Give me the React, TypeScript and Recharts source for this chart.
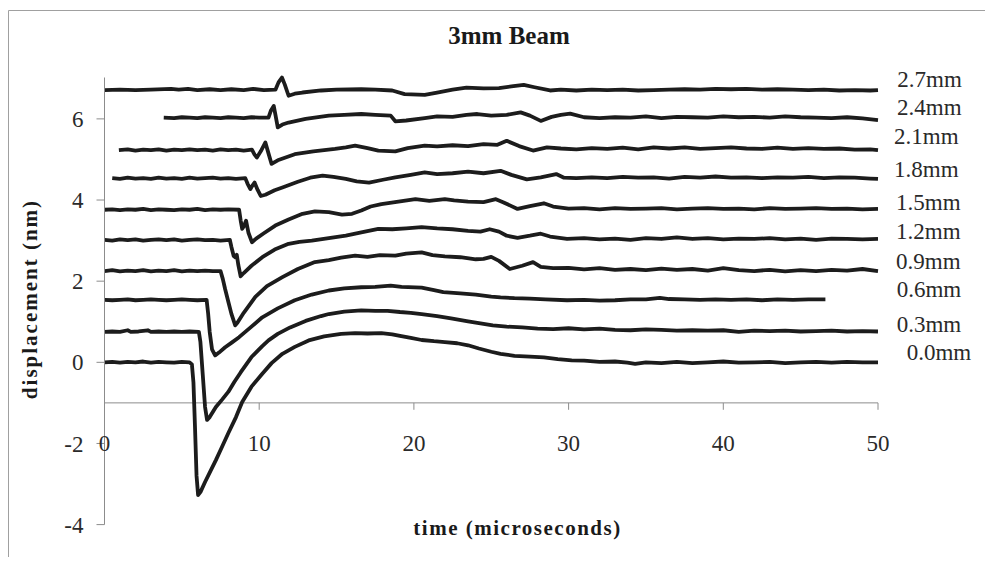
import React from 'react';
import { LineChart, Line, XAxis, YAxis, ReferenceLine } from 'recharts';

// Axis ticks
const xTicks = [0, 10, 20, 30, 40, 50];
const yTicks = [-4, -2, 0, 2, 4, 6];

// Displacement traces [time (µs), displacement (nm)], each offset by 0.75 nm per position
const trace00: [number, number][] = [
  [0, 0.0], [0.5, 0.01], [1, -0.01], [1.5, 0.01], [2, 0.0], [2.5, 0.02], [3, -0.01], [3.5, 0.01], [4, 0.0],
  [4.5, -0.01], [5, 0.01], [5.5, 0.0], [5.65, -0.05], [5.75, -0.5], [5.85, -1.6], [5.95, -2.8], [6.05, -3.27],
  [6.2, -3.2], [6.5, -2.95], [6.8, -2.72], [7.2, -2.41], [7.6, -2.08], [8.0, -1.75], [8.5, -1.35], [8.9, -0.98],
  [9.5, -0.6], [10.2, -0.28], [10.8, -0.02], [11.5, 0.21], [12.3, 0.38], [13.2, 0.54], [14.2, 0.64], [15.3, 0.7],
  [16.2, 0.72], [17, 0.71], [17.9, 0.72], [18.6, 0.69], [19.1, 0.65], [19.8, 0.6], [20.5, 0.55], [21.3, 0.52],
  [22, 0.5], [22.8, 0.47], [23.5, 0.42], [24.2, 0.34], [25, 0.26], [25.6, 0.21], [26.5, 0.16], [27.5, 0.14],
  [28.4, 0.12], [29.3, 0.08], [30.2, 0.05], [31, 0.04], [32, 0.01], [33, 0.02], [33.8, -0.01], [34.3, -0.04],
  [35, 0.0], [36, -0.02], [37, 0.01], [38, -0.02], [39, 0.0], [40, 0.02], [41, -0.01], [42, 0.0], [43, 0.01],
  [44, -0.02], [45, 0.0], [46, 0.01], [47, -0.01], [48, 0.01], [49, 0.0], [50, 0.0],
];

const trace03: [number, number][] = [
  [0, 0.75], [0.5, 0.76], [1, 0.75], [1.5, 0.79], [1.7, 0.75], [2.2, 0.76], [2.8, 0.79], [3, 0.75], [3.5, 0.76],
  [4, 0.75], [4.5, 0.76], [5, 0.75], [5.5, 0.76], [6.1, 0.75], [6.2, 0.5], [6.35, -0.3], [6.5, -1.1], [6.63, -1.42],
  [6.8, -1.35], [7.2, -1.1], [7.6, -0.92], [8.0, -0.73], [8.4, -0.48], [8.8, -0.25], [9.5, 0.13], [10.2, 0.4],
  [10.6, 0.54], [11.2, 0.7], [12, 0.86], [13, 1.02], [14, 1.14], [14.5, 1.19], [15.5, 1.25], [16.6, 1.28],
  [17.5, 1.27], [18.3, 1.27], [19.1, 1.24], [19.8, 1.22], [20.5, 1.19], [21.5, 1.14], [22.4, 1.08], [23.5, 1.01],
  [24.3, 0.96], [25.1, 0.91], [26, 0.88], [27, 0.86], [28, 0.83], [29, 0.82], [30, 0.84], [31, 0.81], [32, 0.83],
  [33, 0.8], [34, 0.79], [35, 0.81], [36, 0.8], [37, 0.78], [38, 0.79], [39, 0.78], [40, 0.79], [41, 0.75],
  [42, 0.78], [43, 0.77], [44, 0.78], [45, 0.76], [46, 0.77], [47, 0.78], [48, 0.76], [49, 0.77], [50, 0.76],
];

const trace06: [number, number][] = [
  [0, 1.54], [0.5, 1.53], [1, 1.54], [1.5, 1.55], [2, 1.53], [2.5, 1.54], [3, 1.55], [3.5, 1.54], [4, 1.53],
  [4.5, 1.54], [5, 1.55], [5.5, 1.54], [6, 1.53], [6.6, 1.54], [6.7, 1.2], [6.8, 0.75], [6.95, 0.32], [7.15, 0.17],
  [7.4, 0.24], [7.8, 0.37], [8.2, 0.48], [8.7, 0.62], [9.5, 0.88], [10.2, 1.11], [11.2, 1.33], [12.3, 1.53],
  [13.4, 1.67], [14.5, 1.77], [15.5, 1.82], [16.6, 1.85], [17.5, 1.86], [18.5, 1.89], [19.2, 1.86], [20.5, 1.84],
  [21.3, 1.78], [21.9, 1.73], [23, 1.7], [24, 1.67], [25, 1.62], [25.6, 1.6], [26.5, 1.58], [27.5, 1.57],
  [28.5, 1.55], [29.9, 1.53], [31, 1.54], [32, 1.52], [33, 1.53], [34, 1.55], [35, 1.55], [35.9, 1.59],
  [36.5, 1.56], [37.5, 1.55], [38.5, 1.54], [39.5, 1.55], [40.5, 1.54], [41.5, 1.55], [42.5, 1.53], [43.5, 1.55],
  [44.5, 1.54], [45.5, 1.55], [46.6, 1.55],
];

const trace09: [number, number][] = [
  [0, 2.25], [0.5, 2.27], [1, 2.24], [1.5, 2.26], [2, 2.25], [2.5, 2.27], [3, 2.24], [3.5, 2.26], [4, 2.25],
  [4.5, 2.27], [5, 2.24], [5.5, 2.26], [6, 2.25], [6.5, 2.26], [7, 2.25], [7.5, 2.25], [7.65, 2.05], [7.8, 1.8],
  [8.0, 1.5], [8.2, 1.2], [8.45, 0.91], [8.6, 0.98], [9.0, 1.22], [9.75, 1.61], [10.5, 1.88], [11.5, 2.1],
  [12.5, 2.3], [13.6, 2.47], [14.5, 2.52], [15.3, 2.58], [16.2, 2.63], [17, 2.6], [17.8, 2.64], [18.8, 2.63],
  [19.5, 2.68], [20.5, 2.71], [21.2, 2.64], [22, 2.61], [23, 2.59], [24, 2.54], [24.5, 2.55], [25, 2.6],
  [25.5, 2.5], [26.2, 2.3], [27, 2.38], [27.7, 2.47], [28.2, 2.35], [29, 2.32], [30, 2.33], [31, 2.29], [32, 2.32],
  [33, 2.28], [34, 2.3], [35, 2.27], [36, 2.31], [37, 2.28], [38, 2.3], [39, 2.26], [40, 2.32], [41, 2.27],
  [42, 2.25], [43, 2.28], [44, 2.24], [45, 2.27], [46, 2.25], [47, 2.28], [48, 2.26], [49, 2.3], [50, 2.25],
];

const trace12: [number, number][] = [
  [0, 3.02], [0.5, 3.0], [1, 3.03], [1.5, 3.01], [2, 3.03], [2.5, 3.0], [3, 3.02], [3.5, 3.03], [4, 3.01],
  [4.5, 3.03], [5, 3.0], [5.5, 3.02], [6, 3.03], [6.5, 3.01], [7, 3.02], [7.5, 3.0], [8.1, 3.02], [8.2, 2.85],
  [8.35, 2.62], [8.45, 2.59], [8.55, 2.65], [8.65, 2.4], [8.8, 2.12], [9.0, 2.2], [9.5, 2.38], [10.2, 2.59],
  [11, 2.78], [11.9, 2.92], [12.6, 2.97], [13.4, 3.0], [14.5, 3.06], [15.6, 3.12], [16.6, 3.2], [17.7, 3.29],
  [18.6, 3.28], [19.5, 3.3], [20.5, 3.33], [21.5, 3.3], [22.5, 3.28], [23.5, 3.24], [24.3, 3.22], [24.9, 3.28],
  [25.5, 3.22], [26, 3.12], [26.7, 3.07], [27.5, 3.12], [28.2, 3.17], [28.8, 3.1], [29.9, 3.04], [31, 3.06],
  [32, 3.03], [33, 3.05], [34, 3.02], [35, 3.06], [36, 3.04], [37, 3.08], [38, 3.04], [39, 3.06], [40, 3.03],
  [41, 3.05], [42, 3.04], [43, 3.06], [44, 3.03], [45, 3.05], [46, 3.02], [47, 3.05], [48, 3.04], [49, 3.03],
  [50, 3.04],
];

const trace15: [number, number][] = [
  [0, 3.76], [0.5, 3.77], [1, 3.75], [1.5, 3.77], [2, 3.76], [2.5, 3.78], [3, 3.75], [3.5, 3.77], [4, 3.76],
  [4.5, 3.75], [5, 3.77], [5.5, 3.76], [6, 3.78], [6.5, 3.75], [7, 3.77], [7.5, 3.76], [8, 3.77], [8.7, 3.76],
  [8.8, 3.5], [8.9, 3.29], [9.0, 3.35], [9.15, 3.49], [9.3, 3.2], [9.53, 2.96], [9.8, 3.05], [10.3, 3.18],
  [11.04, 3.37], [11.9, 3.52], [12.8, 3.66], [13.6, 3.72], [14.5, 3.7], [15.35, 3.64], [16, 3.66], [16.6, 3.74],
  [17.2, 3.84], [17.9, 3.9], [19, 3.96], [20.1, 4.02], [21, 3.98], [22, 4.02], [22.6, 3.99], [23.5, 3.96],
  [24.5, 3.95], [25.3, 4.02], [25.8, 3.94], [26.7, 3.78], [27.5, 3.85], [28.4, 3.92], [29, 3.84], [30, 3.79],
  [31, 3.8], [32, 3.77], [33, 3.8], [34, 3.78], [35, 3.79], [36, 3.8], [37, 3.77], [38, 3.79], [39, 3.8],
  [40, 3.78], [41, 3.79], [42, 3.77], [43, 3.8], [44, 3.78], [45, 3.79], [46, 3.8], [47, 3.78], [48, 3.79],
  [49, 3.77], [50, 3.78],
];

const trace18: [number, number][] = [
  [0.5, 4.54], [1, 4.52], [1.5, 4.55], [2, 4.53], [2.5, 4.54], [3, 4.52], [3.5, 4.55], [4, 4.53], [4.5, 4.54],
  [5, 4.52], [5.5, 4.55], [6, 4.53], [6.5, 4.54], [7, 4.55], [7.5, 4.53], [8, 4.54], [8.5, 4.52], [9.1, 4.54],
  [9.25, 4.4], [9.43, 4.27], [9.55, 4.35], [9.7, 4.43], [9.9, 4.25], [10.1, 4.1], [10.4, 4.13], [11, 4.24],
  [11.5, 4.31], [12.5, 4.45], [13.3, 4.55], [14.1, 4.6], [14.8, 4.57], [15.6, 4.52], [16.3, 4.46], [17.1, 4.43],
  [18, 4.5], [18.8, 4.56], [19.8, 4.62], [20.7, 4.68], [21.5, 4.64], [22.5, 4.66], [23.5, 4.7], [24.5, 4.66],
  [25.6, 4.72], [26.3, 4.62], [27.3, 4.51], [28.2, 4.56], [29.2, 4.64], [29.7, 4.55], [30.5, 4.54], [31.5, 4.56],
  [32.5, 4.54], [33.5, 4.57], [34.5, 4.55], [35.5, 4.56], [36.5, 4.53], [37.5, 4.57], [38.5, 4.55], [39.5, 4.58],
  [40.5, 4.55], [41.5, 4.56], [42.5, 4.54], [43.5, 4.56], [44.5, 4.55], [45.5, 4.57], [46.5, 4.54], [47.5, 4.56],
  [48.5, 4.55], [49.5, 4.53], [50, 4.52],
];

const trace21: [number, number][] = [
  [0.93, 5.23], [1.5, 5.25], [2, 5.22], [2.5, 5.24], [3, 5.23], [3.5, 5.25], [4, 5.22], [4.5, 5.24], [5, 5.23],
  [5.5, 5.25], [6, 5.23], [6.5, 5.24], [7, 5.22], [7.5, 5.25], [8, 5.23], [8.5, 5.24], [9, 5.22], [9.53, 5.24],
  [9.7, 5.12], [9.85, 5.05], [10.1, 5.2], [10.4, 5.42], [10.6, 5.15], [10.8, 4.89], [11.2, 4.98], [12.3, 5.13],
  [13.5, 5.2], [14.9, 5.26], [15.6, 5.3], [16.2, 5.34], [17, 5.28], [17.7, 5.22], [18.8, 5.2], [19.6, 5.28],
  [20.7, 5.34], [21.5, 5.32], [22.5, 5.35], [23.5, 5.33], [24.5, 5.38], [25.4, 5.36], [26, 5.46], [26.8, 5.33],
  [27.7, 5.22], [28.6, 5.3], [29.5, 5.27], [30.5, 5.25], [31.5, 5.28], [32.5, 5.26], [33.5, 5.29], [34.5, 5.25],
  [35.5, 5.3], [36.5, 5.27], [37.5, 5.3], [38.5, 5.26], [39.5, 5.28], [40.5, 5.3], [41.5, 5.27], [42.5, 5.26],
  [43.5, 5.29], [44.5, 5.26], [45.5, 5.28], [46.5, 5.26], [47.5, 5.27], [48.5, 5.24], [49.5, 5.25], [50, 5.23],
];

const trace24: [number, number][] = [
  [3.83, 6.03], [4.5, 6.02], [5, 6.04], [5.5, 6.03], [6, 6.02], [6.5, 6.04], [7, 6.03], [7.5, 6.02], [8, 6.04],
  [8.5, 6.03], [9, 6.02], [9.5, 6.04], [10, 6.03], [10.6, 6.03], [10.75, 6.2], [10.94, 6.32], [11.05, 6.1],
  [11.2, 5.79], [11.5, 5.86], [11.9, 5.91], [13, 6.0], [14.5, 6.08], [15.5, 6.1], [16.6, 6.12], [17.5, 6.1],
  [18.5, 6.08], [18.8, 5.94], [19.5, 5.96], [20.7, 6.02], [21.5, 6.06], [22.5, 6.05], [23.4, 6.1], [24.1, 6.12],
  [25, 6.08], [26, 6.1], [26.9, 6.16], [27.5, 6.08], [28.2, 5.95], [28.9, 6.05], [29.5, 6.1], [30.1, 6.13],
  [31, 6.04], [32, 6.02], [33, 6.04], [34, 6.03], [35, 6.06], [36, 6.02], [37, 6.05], [38, 6.04], [39, 6.03],
  [40, 6.06], [41, 6.04], [42, 6.05], [43, 6.03], [44, 6.06], [45, 6.04], [46, 6.03], [47, 6.02], [48, 6.04],
  [49, 6.01], [50, 5.97],
];

const trace27: [number, number][] = [
  [0, 6.71], [1, 6.72], [2, 6.71], [3, 6.72], [4.3, 6.74], [4.8, 6.72], [5.4, 6.74], [6, 6.71], [6.8, 6.73],
  [7.5, 6.71], [8.2, 6.73], [9, 6.71], [9.6, 6.74], [10.3, 6.71], [11.05, 6.72], [11.25, 6.9], [11.47, 7.02],
  [11.65, 6.85], [11.9, 6.57], [12.3, 6.62], [12.8, 6.65], [14, 6.7], [15, 6.72], [16.6, 6.73], [17.5, 6.72],
  [18.6, 6.7], [19.4, 6.61], [20.7, 6.59], [21.5, 6.65], [22.5, 6.72], [23.4, 6.77], [24.5, 6.75], [25.5, 6.76],
  [26.3, 6.8], [27.1, 6.84], [27.8, 6.78], [28.8, 6.7], [29.5, 6.72], [30.5, 6.7], [31.5, 6.72], [32.5, 6.71],
  [33.5, 6.72], [34.5, 6.7], [35.5, 6.71], [36.5, 6.72], [37.5, 6.73], [38.5, 6.72], [39.5, 6.74], [40.5, 6.73],
  [41.5, 6.74], [42.5, 6.72], [43.5, 6.73], [44.5, 6.72], [45.5, 6.71], [46.5, 6.72], [47.5, 6.7], [48.5, 6.71],
  [49.5, 6.7], [50, 6.71],
];

const seriesNames = ['0.0mm', '0.3mm', '0.6mm', '0.9mm', '1.2mm', '1.5mm', '1.8mm', '2.1mm', '2.4mm', '2.7mm'];
const seriesTraces = [trace00, trace03, trace06, trace09, trace12, trace15, trace18, trace21, trace24, trace27];

// Where each series name is written, right of the plot (x, text baseline)
const nameAnchors: [number, number][] = [
  [898.7, 352], [888.7, 323.7], [888.7, 289.3], [888, 261.3], [888, 231],
  [888, 202], [886, 168.7], [886, 136], [889, 107], [889.3, 78.7],
];

const CHART_W = 985;
const CHART_H = 557;
const FONT = '"Liberation Serif", "Times New Roman", serif';
const INK = '#1c1c1c';
const TEXT = '#2a2a2a';
const AXIS = '#8c8c8c';

export default function App() {
  return (
    <div
      style={{
        position: 'relative',
        width: CHART_W,
        height: CHART_H,
        marginBottom: -8,
        overflow: 'hidden',
        background: '#fff',
        fontFamily: FONT,
      }}
    >
      <LineChart width={CHART_W} height={CHART_H} margin={{ top: 69.5, right: 115, bottom: 40.4, left: 36.5 }}>
        <XAxis type="number" dataKey="t" domain={[0, 50]} ticks={xTicks} hide />
        <YAxis
          type="number"
          domain={[-4, 7]}
          ticks={yTicks}
          interval={0}
          width={60}
          tickSize={8}
          tickMargin={13}
          stroke={AXIS}
          tick={{ fill: TEXT, fontSize: 23, fontFamily: FONT }}
        />
        <ReferenceLine y={-1} stroke={AXIS} />
        {xTicks.map((t) => (
          <ReferenceLine
            key={`xt-${t}`}
            segment={[
              { x: t, y: -1 },
              { x: t, y: -1.17 },
            ]}
            stroke={AXIS}
            label={{ value: String(t), position: 'bottom', offset: 25, fill: TEXT, fontSize: 23, fontFamily: FONT }}
          />
        ))}
        {seriesTraces.map((trace, i) => (
          <Line
            key={seriesNames[i]}
            name={seriesNames[i]}
            data={trace.map(([t, v]) => ({ t, v }))}
            dataKey="v"
            type="linear"
            dot={false}
            stroke={INK}
            strokeWidth={3.8}
            strokeLinejoin="round"
            isAnimationActive={false}
          />
        ))}
      </LineChart>
      <svg
        width={CHART_W}
        height={CHART_H}
        style={{ position: 'absolute', left: 0, top: 0, pointerEvents: 'none' }}
        fontFamily={FONT}
      >
        <path d={`M0.5 ${CHART_H} V2.5 H${CHART_W}`} fill="none" stroke="#a0a0a0" />
        <text x={501} y={36} textAnchor="middle" fontWeight="bold" fontSize={25} fill="#1a1a1a">
          3mm Beam
        </text>
        <text
          transform="translate(29,291) rotate(-90)"
          textAnchor="middle"
          fontWeight="bold"
          fontSize={21}
          letterSpacing={2}
          fill="#1a1a1a"
        >
          displacement (nm)
        </text>
        <text x={509.5} y={527} textAnchor="middle" fontWeight="bold" fontSize={21} letterSpacing={1.5} fill="#1a1a1a">
          time (microseconds)
        </text>
        {seriesNames.map((name, i) => (
          <text key={name} x={nameAnchors[i][0]} y={nameAnchors[i][1]} fontSize={23} fill={TEXT}>
            {name}
          </text>
        ))}
      </svg>
    </div>
  );
}
